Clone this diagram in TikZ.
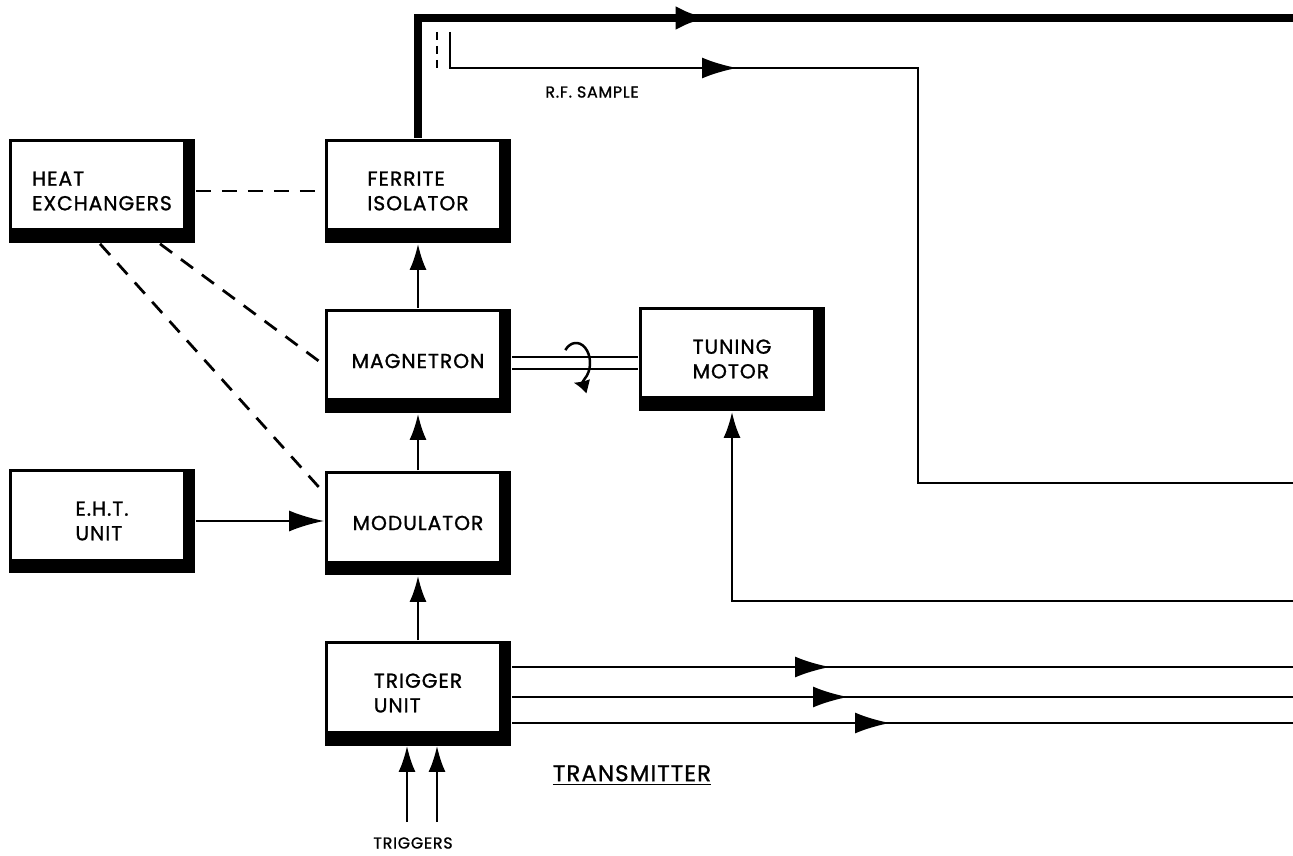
\documentclass[tikz,border=0pt]{standalone}
\usepackage{fontspec}
\setmainfont{Poppins}[LetterSpace=5, FakeBold=1.2]
\usetikzlibrary{arrows.meta,positioning}

\begin{document}
\begin{tikzpicture}[
    x=0.02cm, y=-0.02cm,
    blk/.style={fill=black, minimum width=3.74cm, minimum height=2.1cm,
                inner sep=0pt, align=left, font=\fontsize{11.5}{14}\selectfont,
                path picture={\fill[white]
                  ([shift={(0.07cm,-0.07cm)}]path picture bounding box.north west) rectangle
                  ([shift={(-0.24cm,0.3cm)}]path picture bounding box.south east);}},
    ln/.style={line width=0.05cm},
    arrow/.style={ln, -{Latex[length=0.52cm, width=0.34cm]}},
    harrow/.style={ln, -{Latex[length=0.7cm, width=0.42cm]}},
    rf/.style={line width=0.16cm},
    cool/.style={line width=0.055cm, dash pattern=on 0.3cm off 0.22cm},
    lbl/.style={font=\fontsize{9}{11}\selectfont}
]
\useasboundingbox (0,0) rectangle (1293,855);

% ================= BLOCKS =================
\node[blk] (HE) at (102,191) {HEAT\\EXCHANGERS};
\node[blk] (FI) at (418,191) {FERRITE\\ISOLATOR};
\node[blk] (MAG) at (418,361) {MAGNETRON};
\node[blk] (TM) at (732,359) {TUNING\\MOTOR};
\node[blk] (EHT) at (102,521) {E.H.T.\\UNIT};
\node[blk] (MOD) at (418,523) {MODULATOR};
\node[blk] (TRIG) at (418,693) {TRIGGER\\UNIT};

% ================= COORDINATES =================
\coordinate (rfm) at (708,18);
\coordinate (rfo) at (1293,18);
\coordinate (cpl) at (450,32);
\coordinate (cpd) at (437,32);
\coordinate (rfa) at (737,68);
\coordinate (rfc) at (918,68);
\coordinate (rfs) at (1293,483);
\coordinate (tmi) at (1293,601);
\coordinate (rot) at (576,363);
\coordinate (trA) at (407,822);
\coordinate (trB) at (437,822);

% ================= LABELS =================
\node[lbl] (rfl) at (592,92) {R.F. SAMPLE};
\node[lbl] (trg) at (413,843) {TRIGGERS};
\node[font=\fontsize{13}{15}\selectfont] (ttl) at (632,775) {\underline{TRANSMITTER}};

% ================= R.F. OUTPUT =================
\draw[rf] (FI.north) |- (rfo);
\draw[rf, -{Latex[length=0.65cm, width=0.48cm]}] ([shift={(-40,0)}]rfm) -- (rfm);

% R.F. sample
\draw[ln, dash pattern=on 0.16cm off 0.12cm] (cpd) -- ++(0,36);
\draw[ln] (cpl) |- (rfc) |- (rfs);
\draw[harrow] ([shift={(-40,0)}]rfa) -- (rfa);

% ================= SIGNAL FLOW =================
\draw[arrow] (TRIG.north) -- (MOD.south);
\draw[arrow] (MOD.north) -- (MAG.south);
\draw[arrow] (MAG.north) -- (FI.south);
\draw[harrow] (EHT.east) -- (EHT.east -| MOD.west);
\draw[arrow] (tmi) -| (TM.south);
\draw[arrow] (trA) -- (trA |- TRIG.south);
\draw[arrow] (trB) -- (trB |- TRIG.south);

% trigger outputs
\foreach \yy/\tip [count=\i] in {667/830, 697/848, 723/890} {
  \coordinate (to\i) at (1293,\yy);
  \coordinate (ta\i) at (\tip,\yy);
  \draw[ln] (TRIG.east |- to\i) -- (to\i);
  \draw[harrow] ([shift={(-40,0)}]ta\i) -- (ta\i);
}

% tuning shaft
\draw[ln, double distance=0.19cm] (MAG.east |- rot) -- (TM.west |- rot);
\draw[ln, -{Latex[length=0.3cm, width=0.3cm]}] ([shift={(-10.7,-12.9)}]rot)
  arc[start angle=-140, end angle=100, x radius=14, y radius=20];

% ================= COOLING =================
\draw[cool] (HE.east) -- (FI.west);
\draw[cool] ([shift={(58,0)}]HE.south) -- ([shift={(0,4)}]MAG.west);
\draw[cool] ([shift={(-2,0)}]HE.south) -- ([shift={(0,-30)}]MOD.west);

\end{tikzpicture}
\end{document}
